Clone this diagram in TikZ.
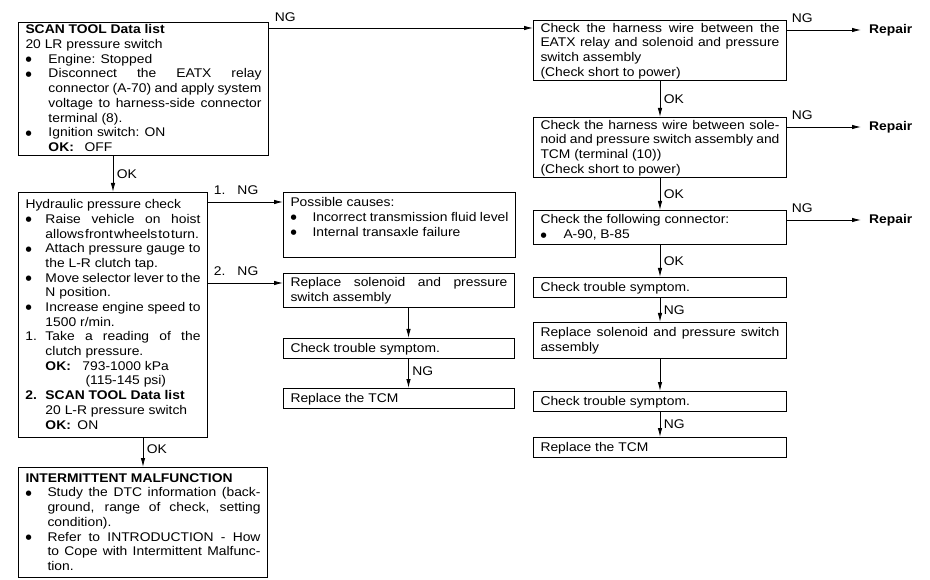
\documentclass[tikz,border=0pt]{standalone}
\usepackage{fontspec}
\setmainfont{Liberation Sans}[FakeStretch=1.1]
\newfontfamily\dvfont{DejaVu Sans}
\usetikzlibrary{arrows.meta,calc}
\newcommand\mystrut{\rule[-3.5pt]{0pt}{14.7pt}}
\newcommand\bx[4][c]{\parbox[c][#3][#1]{#2}{\baselineskip=14.7pt\tolerance=10000\hyphenpenalty=10000\exhyphenpenalty=10000\emergencystretch=0pt\mystrut#4\mystrut}}
\newcommand\bdot{\raisebox{1.6pt}{\dvfont\fontsize{7pt}{7pt}\selectfont ●}}
\newcommand\bul[1][23pt]{\par\hangindent=#1\hangafter=1\noindent\makebox[#1][l]{\bdot}\ignorespaces}
\newcommand\numit[2][20pt]{\par\hangindent=#1\hangafter=1\noindent\makebox[#1][l]{#2}\ignorespaces}
\begin{document}
\begin{tikzpicture}[x=1pt,y=-1pt,
  font=\fontsize{12.6pt}{14.7pt}\selectfont,
  box/.style={draw, line width=1pt, rectangle, inner xsep=7pt, inner ysep=0pt, anchor=north west},
  arr/.style={line width=0.9pt, -{Latex[length=9pt,width=4.5pt]}},
  lbl/.style={inner sep=1.5pt},
  rep/.style={inner xsep=8pt, inner ysep=1.5pt, anchor=west, font=\fontsize{12.6pt}{14.7pt}\selectfont\bfseries}]
\useasboundingbox (0,0) rectangle (930,580);
\fill[white] (0,0) rectangle (930,580);

% left column
\node[box] (A) at (18,21.7) {\bx{236pt}{133.3pt}{\textbf{SCAN TOOL Data list}\par
20 LR pressure switch
\bul Engine: Stopped
\bul Disconnect the EATX relay\linebreak connector (A-70) and apply system\linebreak voltage to harness-side connector\linebreak terminal (8).
\bul Ignition switch: ON\newline\makebox[36pt][l]{\textbf{OK:}}OFF}};

\node[box] (B) at (18,192) {\bx{175pt}{245pt}{Hydraulic pressure check
\bul[20pt] Raise vehicle on hoist\linebreak {\spaceskip=1.2pt allows front wheels to turn.}
\bul[20pt] Attach pressure gauge to\linebreak the L-R clutch tap.
\bul[20pt] Move selector lever to the\linebreak N position.
\bul[20pt] Increase engine speed to\linebreak 1500 r/min.
\numit[20pt]{1.} Take a reading of the\linebreak clutch pressure.\newline\makebox[37pt][l]{\textbf{OK:}}793-1000 kPa\newline\hspace*{40pt}(115-145 psi)
\numit[20pt]{\textbf{2.}} \textbf{SCAN TOOL Data list}\newline 20 L-R pressure switch\newline\makebox[32pt][l]{\textbf{OK:}}ON}};

\node[box] (C) at (18,467) {\bx{235pt}{110pt}{\textbf{INTERMITTENT MALFUNCTION}
\bul[22pt] Study the DTC information (back-\linebreak ground, range of check, setting\linebreak condition).
\bul[22pt] Refer to INTRODUCTION - How\linebreak to Cope with Intermittent Malfunc-\linebreak tion.}};

% middle column
\node[box] (P) at (283,192) {\bx{218pt}{65pt}{Possible causes:
\bul[22pt] Incorrect transmission fluid level
\bul[22pt] Internal transaxle failure\newline}};
\node[box] (M1) at (283,273) {\bx{217pt}{34pt}{Replace solenoid and pressure\linebreak switch assembly}};
\node[box] (M2) at (283,338) {\bx{217pt}{20pt}{Check trouble symptom.}};
\node[box] (M3) at (283,388) {\bx{217pt}{20pt}{Replace the TCM}};

% right column
\node[box] (R1) at (533,20) {\bx{239pt}{60pt}{Check the harness wire between the\linebreak EATX relay and solenoid and pressure\linebreak switch assembly\newline (Check short to power)}};
\node[box] (R2) at (533,117) {\bx{239pt}{60pt}{Check the harness wire between sole-\linebreak noid and pressure switch assembly and\linebreak TCM (terminal (10))\newline (Check short to power)}};
\node[box] (R3) at (533,210) {\bx{239pt}{34pt}{Check the following connector:
\bul[23pt] A-90, B-85}};
\node[box] (R4) at (533,277) {\bx{239pt}{20pt}{Check trouble symptom.}};
\node[box] (R5) at (533,322) {\bx{239pt}{36pt}{Replace solenoid and pressure switch\linebreak assembly}};
\node[box] (R6) at (533,391) {\bx{239pt}{20pt}{Check trouble symptom.}};
\node[box] (R7) at (533,437) {\bx{239pt}{20pt}{Replace the TCM}};

\node[rep] (rp1) at (861,30) {Repair};
\node[rep] (rp2) at (861,127) {Repair};
\node[rep] (rp3) at (861,220) {Repair};

% connectors
\draw[arr] ([yshift=-6.3pt]A.north east) coordinate (a1) -- (a1 -| R1.west)
  node[lbl, pos=0, anchor=base west, xshift=4pt, yshift=6pt] {NG};
\draw[arr] (A.south -| B.north) -- node[lbl, anchor=west, xshift=2pt] {OK} (B.north);
\draw[arr] (B.south -| C.north) -- node[lbl, anchor=west, xshift=2pt, yshift=3pt] {OK} (C.north);

\coordinate (p1) at ([yshift=-10pt]P.north west);
\draw[arr] (B.east |- p1) -- (p1)
  node[lbl, pos=0, anchor=base west, xshift=4pt, yshift=7.5pt] {1.\hspace{12pt}NG};
\coordinate (m1) at ([yshift=-10pt]M1.north west);
\draw[arr] (B.east |- m1) -- (m1)
  node[lbl, pos=0, anchor=base west, xshift=4pt, yshift=7.5pt] {2.\hspace{12pt}NG};
\draw[arr] ([xshift=9.5pt]M1.south) -- ([xshift=9.5pt]M2.north);
\draw[arr] ([xshift=9.5pt]M2.south) -- node[lbl, anchor=west, xshift=2pt, yshift=2pt] {NG} ([xshift=9.5pt]M3.north);

\draw[arr] (R1.east |- rp1.west) -- (rp1.west)
  node[lbl, pos=0, anchor=base west, xshift=3pt, yshift=7pt] {NG};
\draw[arr] (R2.east |- rp2.west) -- (rp2.west)
  node[lbl, pos=0, anchor=base west, xshift=3pt, yshift=7pt] {NG};
\draw[arr] (R3.east |- rp3.west) -- (rp3.west)
  node[lbl, pos=0, anchor=base west, xshift=3pt, yshift=7pt] {NG};
\draw[arr] (R1.south) -- node[lbl, anchor=west, xshift=2pt] {OK} (R2.north);
\draw[arr] (R2.south) -- node[lbl, anchor=west, xshift=2pt] {OK} (R3.north);
\draw[arr] (R3.south) -- node[lbl, anchor=west, xshift=2pt] {OK} (R4.north);
\draw[arr] (R4.south) -- node[lbl, anchor=west, xshift=2pt] {NG} (R5.north);
\draw[arr] (R5.south) -- (R6.north);
\draw[arr] (R6.south) -- node[lbl, anchor=west, xshift=2pt] {NG} (R7.north);
\end{tikzpicture}
\end{document}
